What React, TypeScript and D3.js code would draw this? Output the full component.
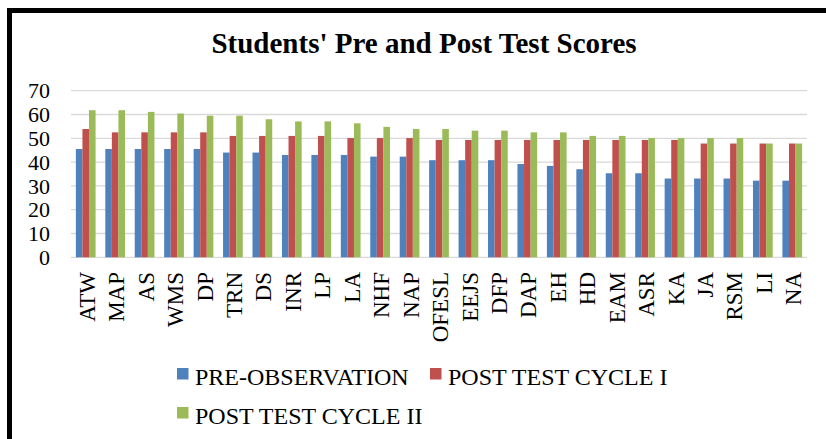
import * as d3 from "d3";

const categories = [
  "ATW", "MAP", "AS", "WMS", "DP", "TRN", "DS", "INR", "LP", "LA", "NHF", "NAP", "OFESL",
  "EEJS", "DFP", "DAP", "EH", "HD", "EAM", "ASR", "KA", "JA", "RSM", "LI", "NA",
];

const preObservation = [
  45.5, 45.5, 45.5, 45.5, 45.5, 44, 44, 43, 43, 43, 42.3, 42.3, 40.8,
  40.8, 40.8, 39.2, 38.4, 37, 35.3, 35.3, 33.1, 33.1, 33.1, 32.2, 32.2,
];

const postCycle1 = [
  53.9, 52.5, 52.5, 52.5, 52.5, 51, 51, 51, 51, 50.1, 50.1, 50.1, 49.3,
  49.3, 49.3, 49.3, 49.3, 49.3, 49.3, 49.3, 49.3, 47.8, 47.8, 47.8, 47.8,
];

const postCycle2 = [
  61.8, 61.8, 61.1, 60.4, 59.5, 59.5, 58, 57.1, 57.1, 56.3, 54.8, 53.9, 53.9,
  53.2, 53.2, 52.5, 52.5, 51, 51, 50.1, 50.1, 50.1, 50.1, 47.8, 47.8,
];

const seriesNames = ["PRE-OBSERVATION", "POST TEST CYCLE I", "POST TEST CYCLE II"];
const seriesColors = ["#4F81BD", "#C0504D", "#9BBB59"];
const yTicks = [0, 10, 20, 30, 40, 50, 60, 70];

const W = 826;
const H = 439;
const FONT = "'Liberation Serif', 'Times New Roman', serif";

export default function App() {
  const series = [preObservation, postCycle1, postCycle2];

  const x = d3
    .scaleBand<string>()
    .domain(categories)
    .range([71, 807])
    .paddingInner(0.33)
    .paddingOuter(0.165);

  const xs = d3
    .scaleBand<number>()
    .domain([0, 1, 2])
    .range([0, x.bandwidth()]);

  const y = d3.scaleLinear().domain([0, 70]).range([257.3, 90.7]);

  // legend layout (rows of items)
  const legend = [
    { i: 0, x: 177, y: 368 },
    { i: 1, x: 430, y: 368 },
    { i: 2, x: 177, y: 407 },
  ];

  return (
    <svg
      width={W}
      height={H}
      style={{ position: "absolute", left: 0, top: 0, background: "#fff" }}
      fontFamily={FONT}
    >
      {/* frame */}
      <rect x={9.5} y={10.5} width={900} height={600} fill="#fff" stroke="#000" strokeWidth={5} />

      <text x={424} y={53} textAnchor="middle" fontSize={29} fontWeight="bold" fill="#000">
        Students' Pre and Post Test Scores
      </text>

      {/* gridlines */}
      {yTicks.map((t) => (
        <line
          key={t}
          x1={71}
          x2={807}
          y1={y(t)}
          y2={y(t)}
          stroke="#d9d9d9"
          strokeWidth={1.3}
        />
      ))}

      {/* y tick labels */}
      {yTicks.map((t) => (
        <text
          key={"l" + t}
          x={50}
          y={y(t)}
          dy="0.35em"
          textAnchor="end"
          fontSize={22}
          fill="#000"
        >
          {t}
        </text>
      ))}

      {/* bars */}
      {series.map((vals, si) =>
        categories.map((c, ci) => (
          <rect
            key={c + si}
            x={(x(c) ?? 0) + (xs(si) ?? 0)}
            y={y(vals[ci])}
            width={xs.bandwidth()}
            height={y(0) - y(vals[ci])}
            fill={seriesColors[si]}
          />
        ))
      )}

      {/* category labels */}
      {categories.map((c) => {
        const cx = (x(c) ?? 0) + x.bandwidth() / 2 + 1;
        return (
          <text
            key={"c" + c}
            transform={`translate(${cx},272) rotate(-90)`}
            dy="0.35em"
            textAnchor="end"
            fontSize={23}
            fill="#000"
          >
            {c}
          </text>
        );
      })}

      {/* legend */}
      {legend.map((l) => (
        <g key={"lg" + l.i}>
          <rect x={l.x} y={l.y} width={11.5} height={11.5} fill={seriesColors[l.i]} />
          <text x={l.x + 18} y={l.y + 17} fontSize={24} fill="#000">
            {seriesNames[l.i]}
          </text>
        </g>
      ))}
    </svg>
  );
}
